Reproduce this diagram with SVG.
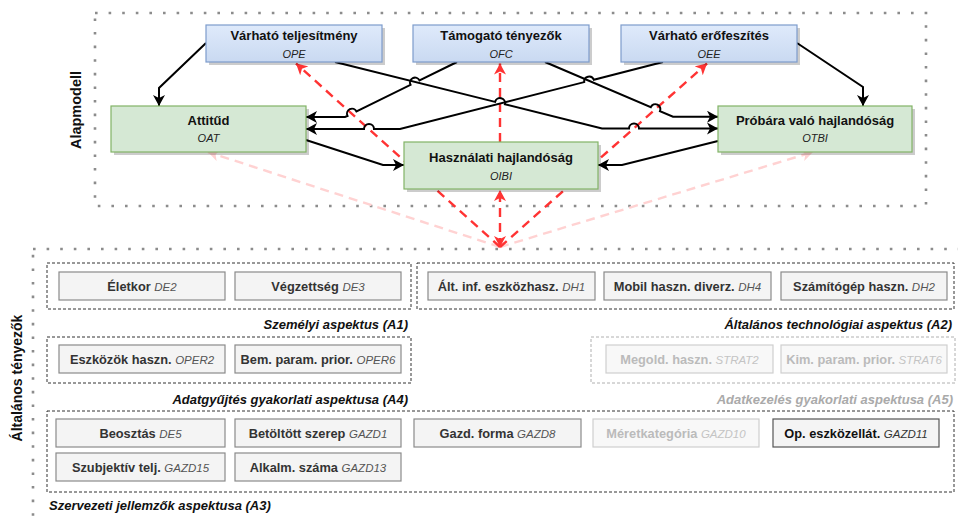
<svg xmlns="http://www.w3.org/2000/svg" width="958" height="520" viewBox="0 0 958 520">
<defs>
<style>
.dot{fill:none;stroke:#8c8c8c;stroke-width:2.6;stroke-dasharray:2.6 11}
.grp{fill:none;stroke:#333;stroke-width:1;stroke-dasharray:3 2}
.grpl{stroke:#b0b0b0}
.blk{fill:none;stroke:#000;stroke-width:2;marker-end:url(#ab)}
.red{fill:none;stroke:#ff3333;stroke-width:2.4;stroke-dasharray:9 6;marker-end:url(#ar)}
.pink{fill:none;stroke:#ffd2d2;stroke-width:2.4;stroke-dasharray:9 6;marker-end:url(#ap)}
.nb{fill:url(#gb);stroke:#7d9ccc;stroke-width:1.2}
.ng{fill:#d5e8d4;stroke:#82b366;stroke-width:1.2}
.sh{fill:#000;opacity:.2}
.t{font-family:"Liberation Sans",Arial,sans-serif;font-size:13px;font-weight:bold;fill:#111;text-anchor:middle}
.s{font-family:"Liberation Sans",Arial,sans-serif;font-size:11px;font-style:italic;fill:#222;text-anchor:middle}
.bx{fill:#f4f4f4;stroke:#8a8a8a;stroke-width:1.2}
.bxl{fill:#f8f8f8;stroke:#cfcfcf}
.bxd{stroke:#555}
.bt{font-family:"Liberation Sans",Arial,sans-serif;font-size:12.8px;font-weight:bold;fill:#333;text-anchor:middle}
.c{font-weight:normal;font-style:italic;font-size:11.5px;fill:#555}
.btl{fill:#bbb}
.btl .c{fill:#c4c4c4}
.btd{fill:#111}
.btd .c{fill:#333}
.gl{font-family:"Liberation Sans",Arial,sans-serif;font-size:13px;font-weight:bold;font-style:italic;fill:#111}
.gll{fill:#aaa}
.side{font-family:"Liberation Sans",Arial,sans-serif;font-size:14.5px;font-weight:bold;fill:#111;text-anchor:middle}
</style>
<linearGradient id="gb" x1="0" y1="0" x2="0" y2="1">
<stop offset="0" stop-color="#dfeafb"/>
<stop offset="1" stop-color="#c9d9f1"/>
</linearGradient>
<marker id="ab" markerUnits="userSpaceOnUse" markerWidth="12" markerHeight="12" viewBox="0 0 12 12" refX="11" refY="6" orient="auto-start-reverse"><path d="M0,0 L11,6 L0,12 L3,6 z" fill="#000"/></marker>
<marker id="ar" markerUnits="userSpaceOnUse" markerWidth="12" markerHeight="12" viewBox="0 0 12 12" refX="11" refY="6" orient="auto-start-reverse"><path d="M0,0 L11,6 L0,12 L3,6 z" fill="#ff3333"/></marker>
<marker id="ap" markerUnits="userSpaceOnUse" markerWidth="12" markerHeight="12" viewBox="0 0 12 12" refX="11" refY="6" orient="auto-start-reverse"><path d="M0,0 L11,6 L0,12 L3,6 z" fill="#ffd2d2"/></marker>
</defs>
<rect width="958" height="520" fill="#fff"/>

<g id="containers">
<rect class="dot" x="95" y="13" width="831" height="193"/>
<rect class="dot" x="33" y="249" width="935" height="300"/>
<text class="side" transform="translate(80.5,110) rotate(-90)">Alapmodell</text>
<text class="side" style="font-size:14px" transform="translate(22,378) rotate(-90)">Általános tényezők</text>
</g>

<g id="groups">
<rect class="grp" x="47" y="263" width="364" height="46"/>
<rect class="grp" x="417" y="263" width="537" height="46"/>
<rect class="grp" x="47" y="337" width="364" height="46"/>
<rect class="grp grpl" x="591" y="337" width="364" height="46"/>
<rect class="grp" x="47" y="411" width="907" height="81"/>
<text class="gl" x="408" y="328.5" text-anchor="end">Személyi aspektus (A1)</text>
<text class="gl" x="952" y="328.5" text-anchor="end">Általános technológiai aspektus (A2)</text>
<text class="gl" x="408" y="403.5" text-anchor="end">Adatgyűjtés gyakorlati aspektusa (A4)</text>
<text class="gl gll" x="953" y="403.5" text-anchor="end">Adatkezelés gyakorlati aspektusa (A5)</text>
<text class="gl" x="49" y="509.5">Szervezeti jellemzők aspektusa (A3)</text>
</g>

<g id="connectors">
<path class="pink" d="M500,247 L208,152"/>
<path class="pink" d="M500,247 L813,152"/>
<path class="red" d="M500,247 L296,63.5"/>
<path class="red" d="M500,142 L500,63.5"/>
<path class="red" d="M500,247 L707,63.5"/>
<path class="red" style="marker-start:url(#ar)" d="M500,247 L500,190"/>
<path class="blk" d="M206,43 L159,88 L159,106"/>
<path class="blk" d="M335,62 L495.1,101.9 A5,5 0 0 1 504.9,104.3 L602,128.5 L629,128.5 A5,5 0 0 1 639,128.5 L718,128.5"/>
<path class="blk" d="M663,62 L593.8,79.7 A5,5 0 0 0 584.2,82.1 L400,129 L374,129 A5,5 0 0 0 364,129 L306,129"/>
<path class="blk" d="M457,62 L419.5,80.4 A5,5 0 0 0 410.5,84.8 L356.5,111.5 A5,5 0 0 0 347.5,115.9 L345,117 L306,117"/>
<path class="blk" d="M545,62 L650.8,107.2 A5,5 0 0 1 660,111.2 L673,116.7 L718,116.7"/>
<path class="blk" d="M797,43 L863,87 L863,106"/>
<path class="blk" d="M306,140 L383,165 L404,165"/>
<path class="blk" d="M718,141 L622,165 L598,165"/>
</g>

<g id="n-ope"><rect class="sh" x="209" y="28" width="176" height="37"/><rect class="nb" x="206" y="25" width="176" height="37"/><text class="t" x="294" y="39.5">Várható teljesítmény</text><text class="s" x="294" y="57.5">OPE</text></g>
<g id="n-ofc"><rect class="sh" x="416" y="28" width="176" height="37"/><rect class="nb" x="413" y="25" width="176" height="37"/><text class="t" x="501" y="39.5">Támogató tényezők</text><text class="s" x="501" y="57.5">OFC</text></g>
<g id="n-oee"><rect class="sh" x="624" y="28" width="176" height="37"/><rect class="nb" x="621" y="25" width="176" height="37"/><text class="t" x="709" y="39.5">Várható erőfeszítés</text><text class="s" x="709" y="57.5">OEE</text></g>
<g id="n-oat"><rect class="sh" x="114" y="109" width="195" height="46"/><rect class="ng" x="111" y="106" width="195" height="46"/><text class="t" x="208.5" y="124.5">Attitűd</text><text class="s" x="208.5" y="142">OAT</text></g>
<g id="n-otbi"><rect class="sh" x="721" y="109" width="194" height="46"/><rect class="ng" x="718" y="106" width="194" height="46"/><text class="t" x="815" y="124.5">Próbára való hajlandóság</text><text class="s" x="815" y="142">OTBI</text></g>
<g id="n-oibi"><rect class="sh" x="407" y="145" width="194" height="47"/><rect class="ng" x="404" y="142" width="194" height="47"/><text class="t" x="501" y="161.8">Használati hajlandóság</text><text class="s" x="501" y="180">OIBI</text></g>

<g id="n-de2"><rect class="bx" x="59" y="272" width="166" height="28"/><text class="bt" x="142" y="290.5">Életkor <tspan class="c">DE2</tspan></text></g>
<g id="n-de3"><rect class="bx" x="235" y="272" width="166" height="28"/><text class="bt" x="318" y="290.5">Végzettség <tspan class="c">DE3</tspan></text></g>
<g id="n-dh1"><rect class="bx" x="428" y="272" width="167" height="28"/><text class="bt" x="511.5" y="290.5">Ált. inf. eszközhasz. <tspan class="c">DH1</tspan></text></g>
<g id="n-dh4"><rect class="bx" x="604" y="272" width="167" height="28"/><text class="bt" x="687.5" y="290.5">Mobil haszn. diverz. <tspan class="c">DH4</tspan></text></g>
<g id="n-dh2"><rect class="bx" x="781" y="272" width="166" height="28"/><text class="bt" x="864" y="290.5">Számítógép haszn. <tspan class="c">DH2</tspan></text></g>
<g id="n-oper2"><rect class="bx" x="59" y="345" width="166" height="28"/><text class="bt" x="142" y="363.5">Eszközök haszn. <tspan class="c">OPER2</tspan></text></g>
<g id="n-oper6"><rect class="bx" x="235" y="345" width="166" height="28"/><text class="bt" x="318" y="363.5">Bem. param. prior. <tspan class="c">OPER6</tspan></text></g>
<g id="n-strat2"><rect class="bx bxl" x="606" y="345" width="167" height="28"/><text class="bt btl" x="689.5" y="363.5">Megold. haszn. <tspan class="c">STRAT2</tspan></text></g>
<g id="n-strat6"><rect class="bx bxl" x="781" y="345" width="166" height="28"/><text class="bt btl" x="864" y="363.5">Kim. param. prior. <tspan class="c">STRAT6</tspan></text></g>
<g id="n-de5"><rect class="bx" x="56" y="419" width="169" height="28"/><text class="bt" x="140.5" y="437.5">Beosztás <tspan class="c">DE5</tspan></text></g>
<g id="n-gazd1"><rect class="bx" x="235" y="419" width="166" height="28"/><text class="bt" x="318" y="437.5">Betöltött szerep <tspan class="c">GAZD1</tspan></text></g>
<g id="n-gazd8"><rect class="bx" x="414" y="419" width="167" height="28"/><text class="bt" x="497.5" y="437.5">Gazd. forma <tspan class="c">GAZD8</tspan></text></g>
<g id="n-gazd10"><rect class="bx bxl" x="593" y="419" width="166" height="28"/><text class="bt btl" x="676" y="437.5">Méretkategória <tspan class="c">GAZD10</tspan></text></g>
<g id="n-gazd11"><rect class="bx bxd" x="773" y="419" width="166" height="28"/><text class="bt btd" x="856" y="437.5">Op. eszközellát. <tspan class="c">GAZD11</tspan></text></g>
<g id="n-gazd15"><rect class="bx" x="56" y="453" width="169" height="28"/><text class="bt" x="140.5" y="471.5">Szubjektív telj. <tspan class="c">GAZD15</tspan></text></g>
<g id="n-gazd13"><rect class="bx" x="235" y="453" width="166" height="28"/><text class="bt" x="318" y="471.5">Alkalm. száma <tspan class="c">GAZD13</tspan></text></g>
</svg>
